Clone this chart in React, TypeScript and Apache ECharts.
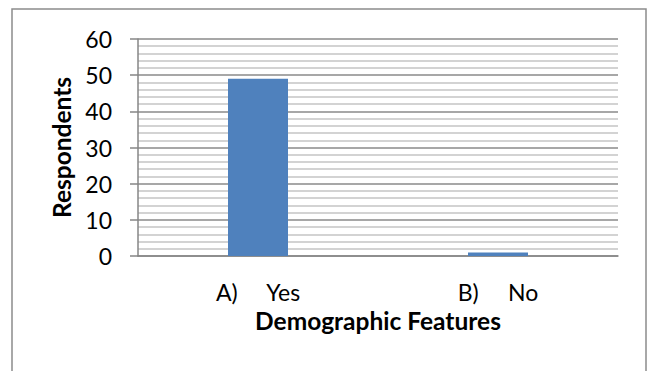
import React, { useEffect, useRef } from "react";
import * as echarts from "echarts";

const categories = ["A)     Yes", "B)     No"];
const respondents = [49, 1];
const yTicks = { min: 0, max: 60, interval: 10 };
const yTitle = "Respondents";
const xTitle = "Demographic Features";

export default function App() {
  const ref = useRef<HTMLDivElement>(null);
  useEffect(() => {
    const chart = echarts.init(ref.current!, null, { renderer: "svg" });
    const font = "Lato, 'Open Sans', sans-serif";
    chart.setOption({
      animation: false,
      backgroundColor: "#ffffff",
      graphic: [
        {
          type: "rect",
          shape: { x: 12, y: 9, width: 634, height: 380 },
          style: { fill: "none", stroke: "#8c8c8c", lineWidth: 1.5 },
          silent: true,
        },
      ],
      grid: { left: 138, top: 39, right: 34, bottom: 115, containLabel: false },
      xAxis: {
        type: "category",
        data: categories,
        axisLine: { show: true, lineStyle: { color: "#868686", width: 1.5 } },
        axisTick: { show: false },
        axisLabel: {
          color: "#000",
          fontFamily: font,
          fontSize: 23,
          margin: 24,
        },
        name: xTitle,
        nameLocation: "middle",
        nameGap: 51,
        nameTextStyle: {
          color: "#000",
          fontFamily: font,
          fontSize: 24.5,
          fontWeight: "bold",
        },
      },
      yAxis: {
        type: "value",
        min: yTicks.min,
        max: yTicks.max,
        interval: yTicks.interval,
        axisLine: { show: true, lineStyle: { color: "#868686", width: 1.5 } },
        axisTick: { show: true, length: 8, lineStyle: { color: "#868686", width: 1.5 } },
        axisLabel: {
          color: "#000",
          fontFamily: font,
          fontSize: 23,
          margin: 26,
        },
        splitLine: { show: true, lineStyle: { color: "#8a8a8a", width: 1.5 } },
        minorTick: { show: false, splitNumber: 5 },
        minorSplitLine: { show: true, lineStyle: { color: "#c4c4c4", width: 1.5 } },
        name: yTitle,
        nameLocation: "middle",
        nameGap: 62,
        nameTextStyle: {
          color: "#000",
          fontFamily: font,
          fontSize: 24.5,
          fontWeight: "bold",
        },
      },
      series: [
        {
          type: "bar",
          data: respondents,
          barWidth: "25%",
          itemStyle: { color: "#4f81bd" },
        },
      ],
    });
    return () => chart.dispose();
  }, []);
  return (
    <div
      ref={ref}
      style={{ position: "fixed", left: 0, top: 0, width: 652, height: 371 }}
    />
  );
}
